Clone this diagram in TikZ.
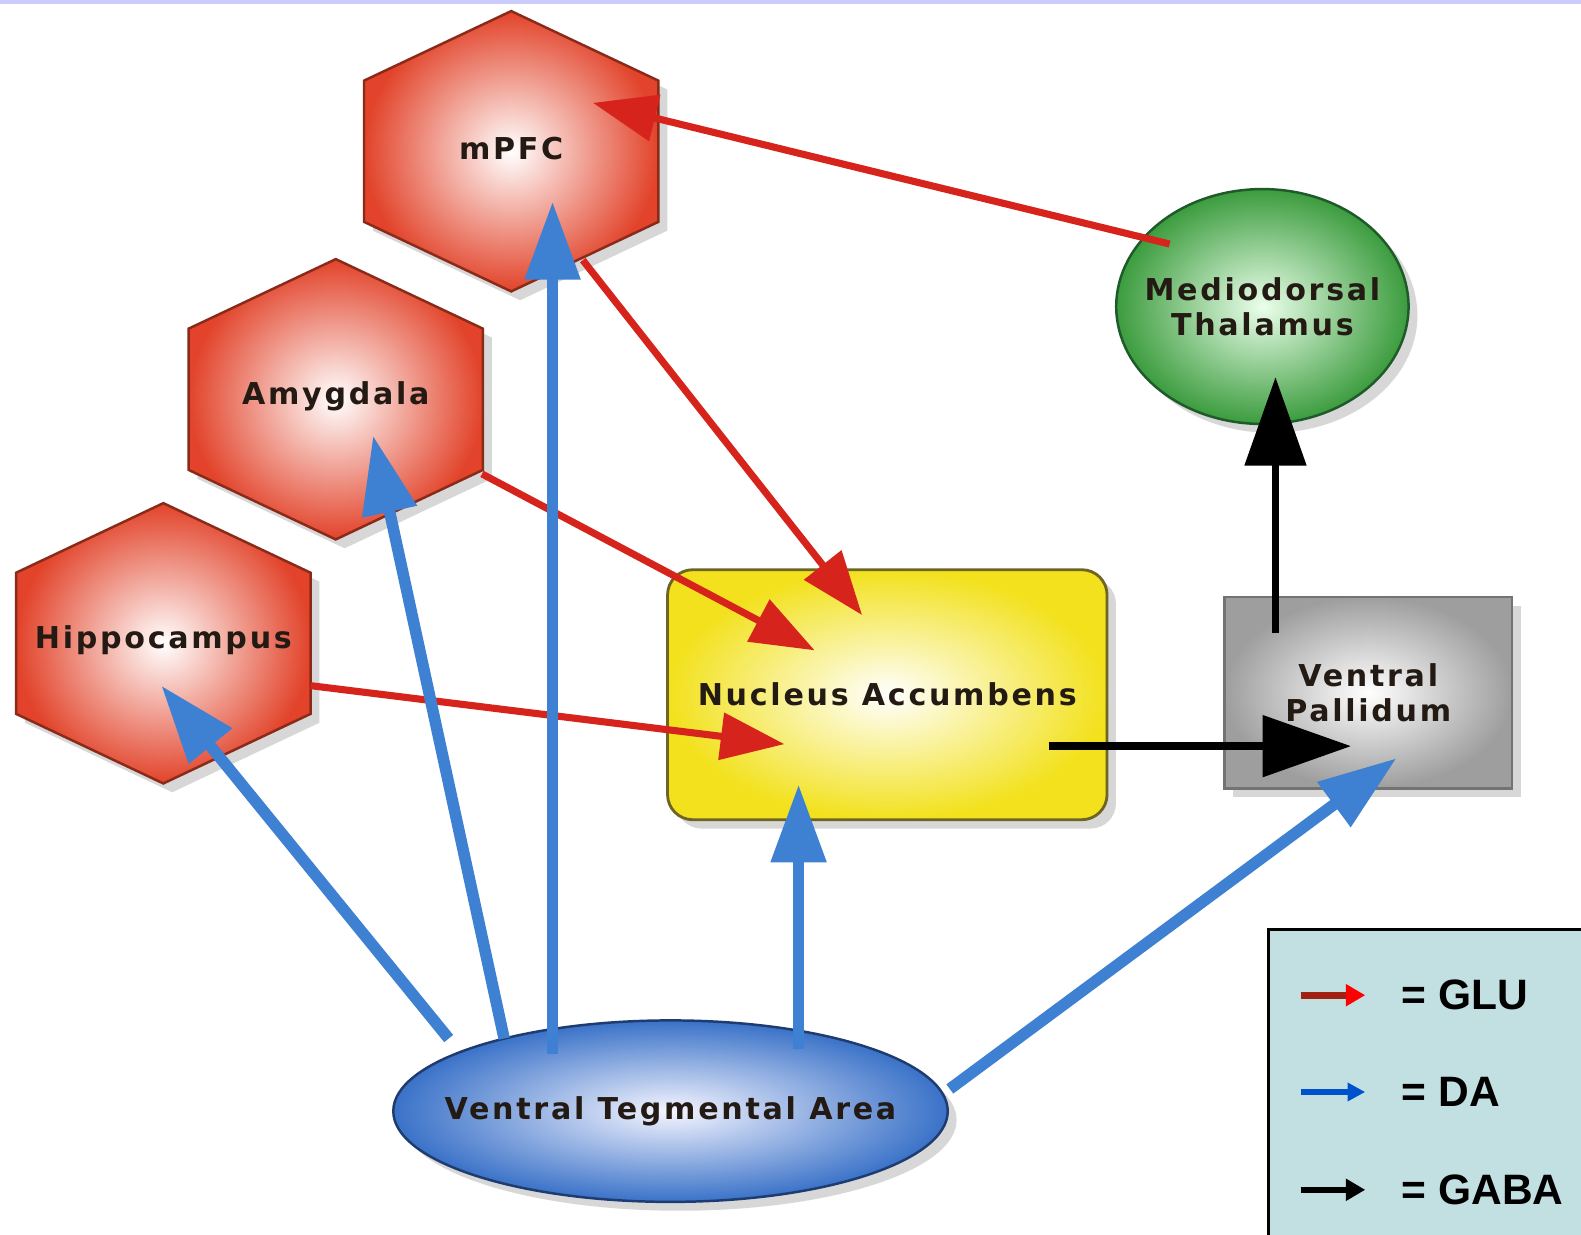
\documentclass[tikz,border=0pt]{standalone}
\usepackage{fontspec}
\usetikzlibrary{arrows.meta,shapes.geometric,shadows,calc}
\newfontfamily\brainfont[LetterSpace=9]{DejaVu Sans}
\newfontfamily\legendfont{Liberation Sans}
\definecolor{brred}{HTML}{E2432A}
\definecolor{brredline}{HTML}{8A2A18}
\definecolor{brarrowred}{HTML}{D6241C}
\definecolor{bryellow}{HTML}{F2E11C}
\definecolor{brolive}{HTML}{6E6424}
\definecolor{brgreen}{HTML}{3C9C3E}
\definecolor{brdkgreen}{HTML}{1F5A2A}
\definecolor{brblue}{HTML}{3A72C8}
\definecolor{brdkblue}{HTML}{1E3C70}
\definecolor{brarrowblue}{HTML}{3E80D2}
\definecolor{brlegfill}{HTML}{C2E0E2}
\definecolor{brtext}{HTML}{231A14}
\tikzset{
  brshadow/.style={
    drop shadow={shadow xshift=5pt,shadow yshift=-5pt,opacity=0.22,fill=black!70}
  },
  brhex/.style={
    brshadow, draw=brredline, line width=1.4pt,
    shading=radial, inner color=white, outer color=brred
  },
  brlabel/.style={
    font=\brainfont\bfseries\fontsize{17}{20}\selectfont,
    text=brtext, align=center, inner sep=0pt
  },
  brnac/.style={
    brlabel, brshadow, rectangle, rounded corners=0.5cm,
    draw=brolive, line width=1.6pt, shading=radial,
    inner color=white, outer color=bryellow,
    minimum width=8.72cm, minimum height=4.96cm
  },
  brvp/.style={
    brlabel, brshadow, rectangle, draw=black!55, line width=1.6pt,
    shading=radial, inner color=white, outer color=black!38,
    minimum width=5.7cm, minimum height=3.8cm
  },
  brmd/.style={
    brlabel, brshadow, ellipse, draw=brdkgreen, line width=1.4pt,
    shading=radial, inner color=green!8, outer color=brgreen,
    inner xsep=-0.4cm, inner ysep=0pt,
    minimum width=5.8cm, minimum height=4.66cm
  },
  brvta/.style={
    brlabel, brshadow, ellipse, draw=brdkblue, line width=1.4pt,
    shading=radial, inner color=blue!4, outer color=brblue,
    inner xsep=-0.8cm, inner ysep=0pt,
    minimum width=11cm, minimum height=3.6cm
  },
  bredgeglu/.style={draw=brarrowred, line width=4pt,
    -{Triangle[length=36pt,width=26pt]}},
  bredgeda/.style={draw=brarrowblue, line width=6.5pt,
    -{Triangle[length=44pt,width=30pt]}},
  bredgegaba/.style={draw=black, line width=4.5pt,
    -{Triangle[length=50pt,width=34pt]}},
  brlegbox/.style={draw=black, fill=brlegfill, line width=1.8pt},
  brlegtext/.style={font=\legendfont\bfseries\fontsize{24}{26}\selectfont,
    text=black, inner sep=0pt, anchor=west},
  brlegglu/.style={draw=brredline!80!red, line width=4pt,
    -{Triangle[length=11pt,width=12pt,color=red]}},
  brlegda/.style={draw=blue!60!cyan!80!black, line width=3pt,
    -{Triangle[length=10pt,width=10pt]}},
  brleggaba/.style={draw=black, line width=3.5pt,
    -{Triangle[length=11pt,width=12pt]}}
}
\begin{document}
\begin{tikzpicture}[x=0.02cm,y=-0.02cm]
  \fill[white] (0,0) rectangle (1568,1224);
  \useasboundingbox (0,0) rectangle (1568,1224);
  \fill[blue!20] (0,0) rectangle (1568,4);

  % cortical and limbic inputs
  \foreach \nm/\cx/\cy/\txt in {mpfc/507/150/mPFC, amyg/333/396/Amygdala, hippo/162/638/Hippocampus}{
    \draw[brhex] (\cx,\cy-139) -- (\cx+146,\cy-70) -- (\cx+146,\cy+70) -- (\cx,\cy+139)
      -- (\cx-146,\cy+70) -- (\cx-146,\cy-70) -- cycle;
    \node[brlabel] (\nm) at (\cx,\cy-3) {\txt};
  }

  \node[brnac] (nac) at (880,689) {Nucleus Accumbens};
  \node[brvp] (vp) at (1357,687) {Ventral\\Pallidum};
  \node[brmd] (mdthal) at (1252,304) {Mediodorsal\\Thalamus};
  \node[brvta] (vta) at (665,1102) {Ventral Tegmental Area};

  % GLU
  \draw[bredgeglu] ($(mdthal)+(-92,-62)$) -- ($(mpfc)+(81,-45)$);
  \draw[bredgeglu] ($(mpfc)+(71,111)$) -- ($(nac)+(-25,-79)$);
  \draw[bredgeglu] ($(amyg)+(145,77)$) -- ($(nac)+(-72,-44)$);
  \draw[bredgeglu] ($(hippo)+(146,45)$) -- ($(nac)+(-102,49)$);

  % DA
  \draw[bredgeda] ($(vta)+(-220,-72)$) -- ($(hippo)+(-2,45)$);
  \draw[bredgeda] ($(vta)+(-165,-72)$) -- ($(amyg)+(37,39)$);
  \draw[bredgeda] ($(vta)+(-117,-57)$) -- ($(mpfc)+(41,53)$);
  \draw[bredgeda] ($(vta)+(127,-62)$) -- ($(nac)+(-88,89)$);
  \draw[bredgeda] ($(vta)+(277,-22)$) -- ($(vp)+(28,65)$);

  % GABA
  \draw[bredgegaba] ($(nac)+(160,51)$) -- ($(vp)+(-17,53)$);
  \draw[bredgegaba] ($(vp)+(-92,-59)$) -- ($(mdthal)+(13,70)$);

  % legend
  \draw[brlegbox] (1258,922) rectangle (1590,1250);
  \node[brlegtext] (lglu) at (1390,987) {= GLU};
  \node[brlegtext] (lda) at (1390,1083) {= DA};
  \node[brlegtext] (lgaba) at (1390,1180) {= GABA};
  \draw[brlegglu] ($(lglu.west)+(-100,0)$) -- ($(lglu.west)+(-36,0)$);
  \draw[brlegda] ($(lda.west)+(-100,0)$) -- ($(lda.west)+(-36,0)$);
  \draw[brleggaba] ($(lgaba.west)+(-100,0)$) -- ($(lgaba.west)+(-36,0)$);
\end{tikzpicture}
\end{document}
